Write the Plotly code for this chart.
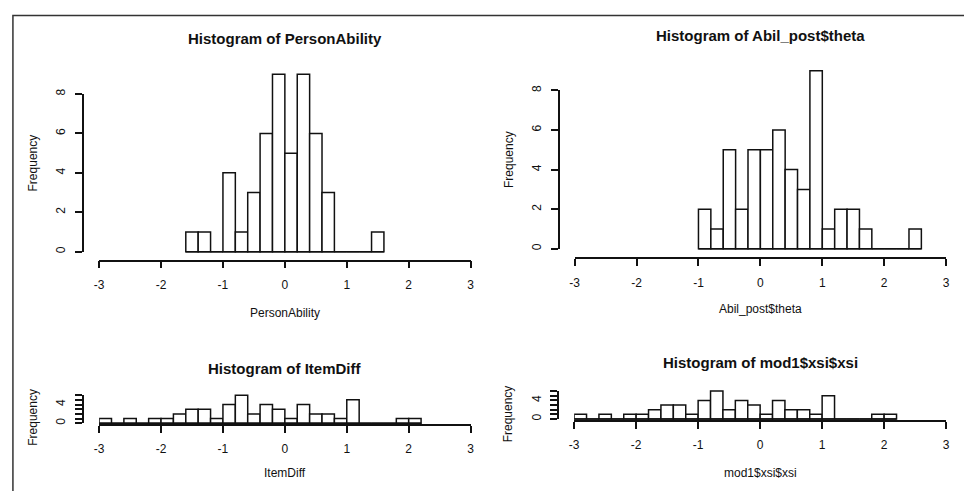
import plotly.graph_objects as go

W, H = 964, 491
BIN_WIDTH = 0.2

# ---------------- data ----------------
person_left = [-1.6, -1.4, -1.2, -1.0, -0.8, -0.6, -0.4, -0.2, 0.0, 0.2, 0.4, 0.6, 0.8, 1.0, 1.2, 1.4]
person_counts = [1, 1, 0, 4, 1, 3, 6, 9, 5, 9, 6, 3, 0, 0, 0, 1]

abil_left = [-1.0, -0.8, -0.6, -0.4, -0.2, 0.0, 0.2, 0.4, 0.6, 0.8, 1.0, 1.2, 1.4, 1.6, 1.8, 2.0, 2.2, 2.4]
abil_counts = [2, 1, 5, 2, 5, 5, 6, 4, 3, 9, 1, 2, 2, 1, 0, 0, 0, 1]

item_left = [-3.0, -2.8, -2.6, -2.4, -2.2, -2.0, -1.8, -1.6, -1.4, -1.2, -1.0, -0.8, -0.6,
             -0.4, -0.2, 0.0, 0.2, 0.4, 0.6, 0.8, 1.0, 1.2, 1.4, 1.6, 1.8, 2.0]
item_counts = [1, 0, 1, 0, 1, 1, 2, 3, 3, 1, 4, 6, 2, 4, 3, 1, 4, 2, 2, 1, 5, 0, 0, 0, 1, 1]

xsi_left = list(item_left)
xsi_counts = [1, 0, 1, 0, 1, 1, 2, 3, 3, 1, 4, 6, 2, 4, 3, 1, 4, 2, 2, 1, 5, 0, 0, 0, 1, 1]

x_ticks = [-3, -2, -1, 0, 1, 2, 3]
top_y_ticks = [0, 2, 4, 6, 8]
bottom_y_ticks = [0, 1, 2, 3, 4, 5, 6]
bottom_y_labels = ["0", "", "", "", "4", "", ""]

titles = ["Histogram of PersonAbility", "Histogram of Abil_post$theta",
          "Histogram of ItemDiff", "Histogram of mod1$xsi$xsi"]
xlabels = ["PersonAbility", "Abil_post$theta", "ItemDiff", "mod1$xsi$xsi"]

FONT = "Liberation Sans, Arial, sans-serif"
INK = "#111111"

def px(x):
    return x / W

def py(y):
    return 1 - y / H

panels = [
    dict(left=person_left, counts=person_counts, xa=95, xb=470, y0=250.3, ppu=20.0, axis=258.3, top=60,
         yax=78.3, yticks=top_y_ticks, ylabels=[str(v) for v in top_y_ticks], ymax=8,
         title_y=34, xlab_y=312, freq=(28, 160)),
    dict(left=abil_left, counts=abil_counts, xa=575, xb=950, y0=247.3, ppu=20.08, axis=256.0, top=60,
         yax=559, yticks=top_y_ticks, ylabels=[str(v) for v in top_y_ticks], ymax=8,
         title_y=31, xlab_y=308, freq=(509, 157)),
    dict(left=item_left, counts=item_counts, xa=95, xb=470, y0=424.3, ppu=4.75, axis=425.3, top=385,
         yax=78.3, yticks=bottom_y_ticks, ylabels=bottom_y_labels, ymax=6,
         title_y=369, xlab_y=475, freq=(28, 418)),
    dict(left=xsi_left, counts=xsi_counts, xa=574.5, xb=950, y0=420.0, ppu=4.72, axis=421.0, top=381,
         yax=558.3, yticks=bottom_y_ticks, ylabels=bottom_y_labels, ymax=6,
         title_y=363, xlab_y=475, freq=(508, 415)),
]

fig = go.Figure()
layout = dict(width=W, height=H, margin=dict(l=0, r=0, t=0, b=0, pad=0),
              paper_bgcolor="white", plot_bgcolor="rgba(0,0,0,0)", showlegend=False,
              font=dict(family=FONT, color=INK))
annotations = []

for i, p in enumerate(panels):
    n = i + 1
    m = i + 5
    xs = f"x{n}" if n > 1 else "x"
    ys = f"y{n}" if n > 1 else "y"
    ys_free = f"y{m}"
    centers = [l + BIN_WIDTH / 2 for l in p["left"]]

    fig.add_trace(go.Scatter(x=[p["left"][0], p["left"][-1] + BIN_WIDTH], y=[0, 0], mode="lines",
                             line=dict(color=INK, width=1.5), xaxis=xs, yaxis=ys, hoverinfo="skip"))
    fig.add_trace(go.Bar(x=centers, y=p["counts"], width=BIN_WIDTH,
                         marker=dict(color="white", line=dict(color=INK, width=1.5)),
                         xaxis=xs, yaxis=ys))
    fig.add_trace(go.Scatter(x=[None], y=[None], mode="markers", xaxis=xs, yaxis=ys_free,
                             hoverinfo="skip"))

    ymin = -(p["axis"] - p["y0"]) / p["ppu"]
    ymaxr = (p["y0"] - p["top"]) / p["ppu"]

    layout[f"xaxis{n}"] = dict(
        domain=[px(p["xa"]), px(p["xb"])], range=[-3, 3], anchor=ys,
        tickvals=x_ticks, ticktext=[str(v) for v in x_ticks],
        showline=True, linecolor=INK, linewidth=1.5, ticks="outside", ticklen=7, tickwidth=1.5,
        tickcolor=INK, showgrid=False, zeroline=False, ticklabelstandoff=6,
        tickfont=dict(size=12, family=FONT, color=INK), fixedrange=True)
    layout[f"yaxis{n}"] = dict(
        domain=[py(p["axis"]), py(p["top"])], range=[ymin, ymaxr], anchor=xs,
        visible=False, showgrid=False, zeroline=False, fixedrange=True)
    layout[f"yaxis{m}"] = dict(
        domain=[py(p["y0"]), py(p["y0"] - p["ymax"] * p["ppu"])], range=[0, p["ymax"]],
        anchor="free", position=px(p["yax"]),
        tickvals=p["yticks"], ticktext=p["ylabels"], tickangle=-90,
        showline=True, linecolor=INK, linewidth=1.5, ticks="outside", ticklen=7, tickwidth=1.5,
        tickcolor=INK, showgrid=False, zeroline=False, ticklabelstandoff=5,
        tickfont=dict(size=12, family=FONT, color=INK), fixedrange=True)

    cx = (p["xa"] + p["xb"]) / 2
    annotations.append(dict(text=f"<b>{titles[i]}</b>", x=px(cx), y=py(p["title_y"]), xref="paper",
                            yref="paper", showarrow=False, xanchor="center", yanchor="middle",
                            font=dict(size=15, family=FONT, color=INK)))
    annotations.append(dict(text=xlabels[i], x=px(cx), y=py(p["xlab_y"]), xref="paper", yref="paper",
                            showarrow=False, xanchor="center", yanchor="middle",
                            font=dict(size=12, family=FONT, color=INK)))
    annotations.append(dict(text="Frequency", x=px(p["freq"][0]), y=py(p["freq"][1]), xref="paper",
                            yref="paper", showarrow=False, xanchor="center", yanchor="middle",
                            textangle=-90, font=dict(size=12, family=FONT, color=INK)))

layout["annotations"] = annotations
layout["shapes"] = [dict(type="path", xref="paper", yref="paper",
                         path=f"M {px(8)} -0.01 L {px(8)} {py(10.7)} L 1.01 {py(10.7)}",
                         line=dict(color="#333333", width=1.5))]

fig.update_layout(**layout)
fig.write_html("out.html", config=dict(displayModeBar=False),
               post_script="document.body.style.margin='0';document.body.style.overflow='hidden';")
